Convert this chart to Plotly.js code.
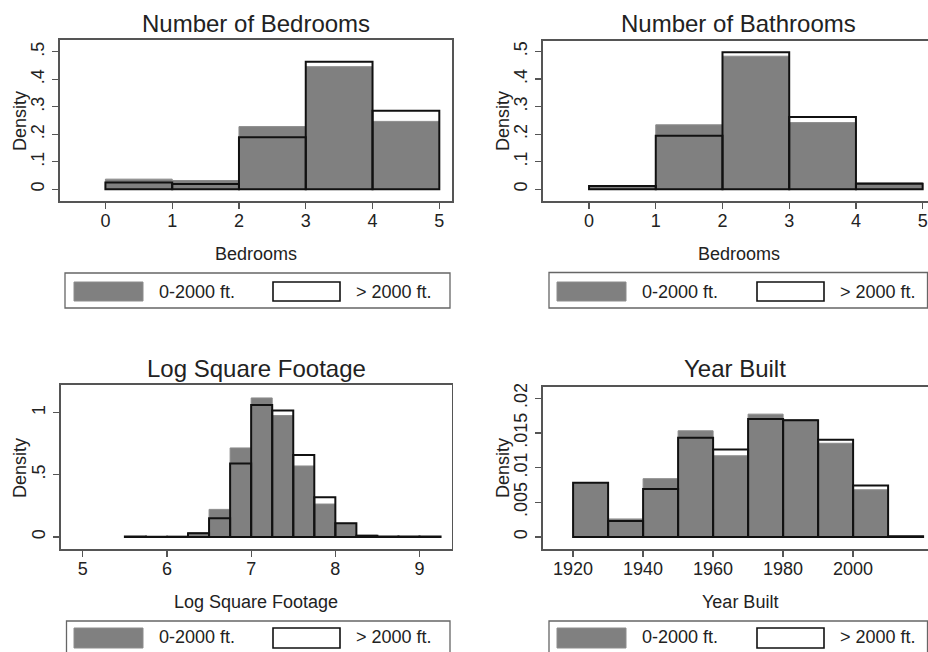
<!DOCTYPE html>
<html>
<head>
<meta charset="utf-8">
<script src="https://cdn.plot.ly/plotly-3.0.1.min.js"></script>
<style>html,body{margin:0;padding:0;background:#fff;}#chart{width:928px;height:652px;}</style>
</head>
<body>
<div id="chart"></div>
<script>
// ---------- DATA ----------
const bedBins = [0.5, 1.5, 2.5, 3.5, 4.5];
const bedSmall = [0.037, 0.032, 0.228, 0.446, 0.247];
const bedLarge = [0.025, 0.019, 0.189, 0.464, 0.286];

const bathBins = [0.5, 1.5, 2.5, 3.5, 4.5];
const bathSmall = [0.012, 0.234, 0.483, 0.242, 0.024];
const bathLarge = [0.012, 0.194, 0.497, 0.262, 0.020];

const sqftBins = [5.625, 5.875, 6.125, 6.375, 6.625, 6.875, 7.125, 7.375, 7.625, 7.875, 8.125, 8.375, 8.625, 8.875, 9.125];
const sqftSmall = [0.002, 0.002, 0.006, 0.035, 0.222, 0.716, 1.118, 0.976, 0.571, 0.265, 0.110, 0.015, 0.003, 0.002, 0.002];
const sqftLarge = [0.003, 0.002, 0.002, 0.030, 0.150, 0.590, 1.062, 1.016, 0.660, 0.319, 0.110, 0.010, 0.005, 0.004, 0.003];

const yearBins = [1925, 1935, 1945, 1955, 1965, 1975, 1985, 1995, 2005, 2015];
const yearSmall = [0.0078, 0.0026, 0.0084, 0.0153, 0.0117, 0.0177, 0.0169, 0.0135, 0.0068, 0.0001];
const yearLarge = [0.0078, 0.0023, 0.0069, 0.0143, 0.0126, 0.0170, 0.0168, 0.0140, 0.0074, 0.0001];

const seriesNames = ["0-2000 ft.", "> 2000 ft."];
const panelTitles = ["Number of Bedrooms", "Number of Bathrooms", "Log Square Footage", "Year Built"];
const xTitles = ["Bedrooms", "Bedrooms", "Log Square Footage", "Year Built"];
const yTitle = "Density";

const xTicksCount = [0, 1, 2, 3, 4, 5];
const yTicksCount = [0, 0.1, 0.2, 0.3, 0.4, 0.5];
const yTicksCountText = ["0", ".1", ".2", ".3", ".4", ".5"];
const xTicksSqft = [5, 6, 7, 8, 9];
const yTicksSqft = [0, 0.5, 1];
const yTicksSqftText = ["0", ".5", "1"];
const xTicksYear = [1920, 1940, 1960, 1980, 2000];
const yTicksYear = [0, 0.005, 0.01, 0.015, 0.02];
const yTicksYearText = ["0", ".005", ".01", ".015", ".02"];

// ---------- LAYOUT HELPERS ----------
const W = 928, H = 652;
const px = p => p / W;
const py = p => 1 - p / H;
const FONT = "Liberation Sans, Arial, Helvetica, sans-serif";
const TXT = "#222";
const GRAY = "#808080";

function grayBar(x, y, w, ax) {
  return {type: "bar", x: x, y: y, width: w, xaxis: "x" + ax, yaxis: "y" + ax,
    marker: {color: GRAY, line: {color: "#8c8c8c", width: 1}}, showlegend: false, hoverinfo: "skip", name: seriesNames[0]};
}
function outlineBar(x, y, w, ax) {
  return {type: "bar", x: x, y: y, width: w, xaxis: "x" + ax, yaxis: "y" + ax,
    marker: {color: "rgba(0,0,0,0)", line: {color: "#111", width: 2}}, showlegend: false, hoverinfo: "skip", name: seriesNames[1]};
}

const data = [
  grayBar(bedBins, bedSmall, 1, ""), outlineBar(bedBins, bedLarge, 1, ""),
  grayBar(bathBins, bathSmall, 1, "2"), outlineBar(bathBins, bathLarge, 1, "2"),
  grayBar(sqftBins, sqftSmall, 0.25, "3"), outlineBar(sqftBins, sqftLarge, 0.25, "3"),
  grayBar(yearBins, yearSmall, 10, "4"), outlineBar(yearBins, yearLarge, 10, "4")
];

function axisBase(extra) {
  return Object.assign({
    showline: true, linecolor: "#555", linewidth: 1.6, mirror: true,
    ticks: "outside", ticklen: 6, tickwidth: 1.3, tickcolor: "#555",
    showgrid: false, zeroline: false, fixedrange: true,
    tickfont: {family: FONT, size: 18, color: TXT}
  }, extra);
}

const layout = {
  width: W, height: H,
  margin: {l: 0, r: 0, t: 0, b: 0},
  paper_bgcolor: "#fff", plot_bgcolor: "#fff",
  barmode: "overlay",
  showlegend: false,
  xaxis: axisBase({domain: [px(60), px(452)], range: [-0.68, 5.19], tickvals: xTicksCount, anchor: "y", ticklabelstandoff: -3}),
  yaxis: axisBase({domain: [py(201), py(40)], range: [-0.0425, 0.543], tickvals: yTicksCount, ticktext: yTicksCountText, tickangle: -90, anchor: "x", ticklabelstandoff: 1}),
  xaxis2: axisBase({domain: [px(543), 1], range: [-0.69, 5.08], tickvals: xTicksCount, anchor: "y2", ticklabelstandoff: -3}),
  yaxis2: axisBase({domain: [py(201), py(40.5)], range: [-0.0425, 0.54], tickvals: yTicksCount, ticktext: yTicksCountText, tickangle: -90, anchor: "x2", mirror: false, ticklabelstandoff: 1}),
  xaxis3: axisBase({domain: [px(60.5), px(451.5)], range: [4.735, 9.38], tickvals: xTicksSqft, anchor: "y3", ticklabelstandoff: -3}),
  yaxis3: axisBase({domain: [py(549), py(385)], range: [-0.0965, 1.222], tickvals: yTicksSqft, ticktext: yTicksSqftText, tickangle: -90, anchor: "x3", ticklabelstandoff: 1}),
  xaxis4: axisBase({domain: [px(543), 1], range: [1911.4, 2021.4], tickvals: xTicksYear, anchor: "y4", ticklabelstandoff: -3}),
  yaxis4: axisBase({domain: [py(549), py(386.5)], range: [-0.00173, 0.02168], tickvals: yTicksYear, ticktext: yTicksYearText, tickangle: -90, anchor: "x4", mirror: false, ticklabelstandoff: 1}),
  annotations: [],
  shapes: []
};

function ann(text, x, y, size, opts) {
  layout.annotations.push(Object.assign({
    text: text, xref: "paper", yref: "paper", x: px(x), y: py(y),
    xanchor: "center", yanchor: "middle", showarrow: false,
    font: {family: FONT, size: size, color: TXT}
  }, opts || {}));
}

// Panel titles
ann(panelTitles[0], 256, 23, 24);
ann(panelTitles[1], 738, 23, 24);
ann(panelTitles[2], 256, 369, 24);
ann(panelTitles[3], 735, 368, 24);
// x titles
ann(xTitles[0], 256, 254, 18);
ann(xTitles[1], 739, 254, 18);
ann(xTitles[2], 256, 602, 18);
ann(xTitles[3], 740, 602, 18);
// y titles
ann(yTitle, 20, 121, 18, {textangle: -90});
ann(yTitle, 503, 121, 18, {textangle: -90});
ann(yTitle, 20, 468, 18, {textangle: -90});
ann(yTitle, 503, 468, 18, {textangle: -90});

// Legends (box + swatches + labels)
function legend(bx0, bx1, by0, by1, sy0, sy1, g0, w0, textY) {
  layout.shapes.push({type: "rect", xref: "paper", yref: "paper", x0: px(bx0), x1: px(bx1), y0: py(by1), y1: py(by0),
    line: {color: "#666", width: 1.3}, fillcolor: "rgba(0,0,0,0)"});
  layout.shapes.push({type: "rect", xref: "paper", yref: "paper", x0: px(g0), x1: px(g0 + 69), y0: py(sy1), y1: py(sy0),
    line: {color: "#8c8c8c", width: 1}, fillcolor: GRAY});
  layout.shapes.push({type: "rect", xref: "paper", yref: "paper", x0: px(w0), x1: px(w0 + 67), y0: py(sy1), y1: py(sy0),
    line: {color: "#111", width: 1.6}, fillcolor: "#fff"});
  ann(seriesNames[0], g0 + 83, textY, 18, {xanchor: "left"});
  ann(seriesNames[1], w0 + 81, textY, 18, {xanchor: "left"});
}
legend(65, 450, 273, 308, 282, 301, 74, 273, 292);
legend(549, 927.5, 272.5, 308, 282, 301, 557, 757, 292);
legend(66.5, 450, 621, 660, 628, 648, 74, 273, 637);
legend(549, 927.5, 621, 660, 628, 648, 557, 757, 637);

Plotly.newPlot("chart", data, layout, {staticPlot: true, displayModeBar: false});
</script>
</body>
</html>
